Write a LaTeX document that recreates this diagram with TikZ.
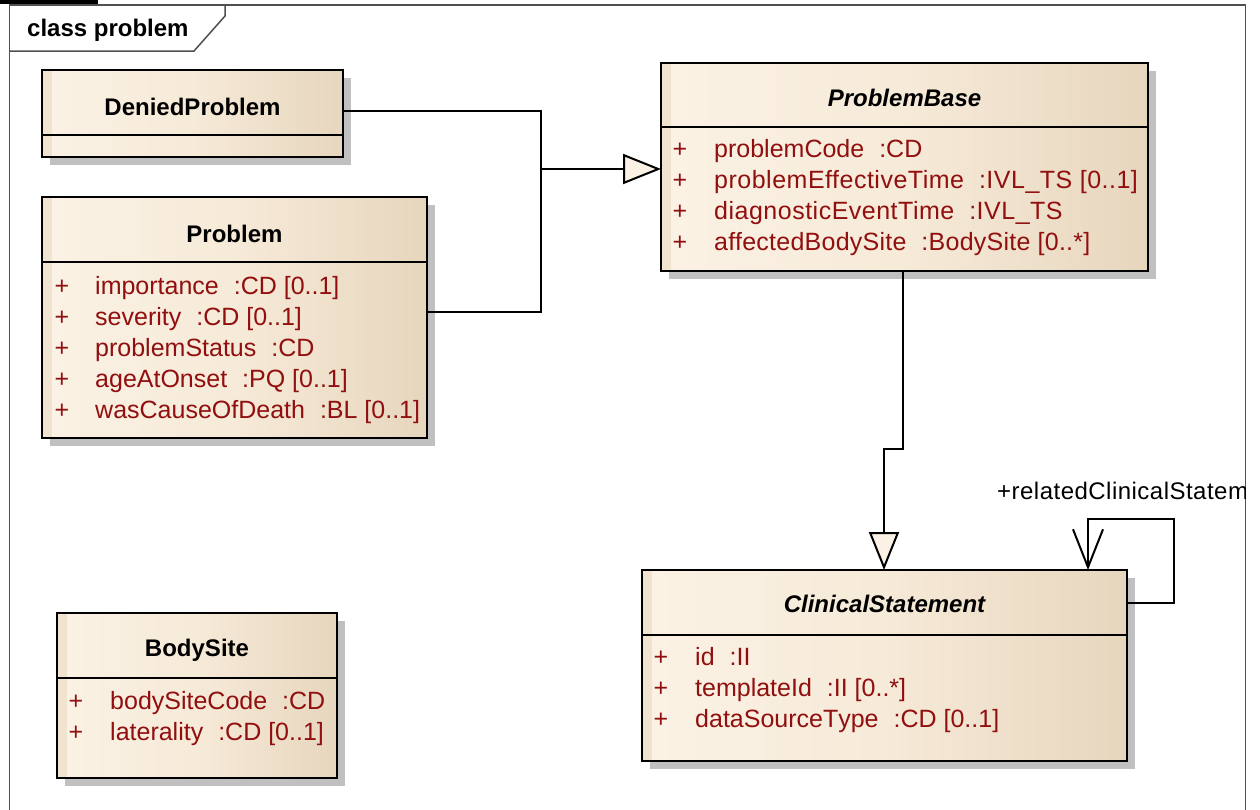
\documentclass[tikz,border=0pt]{standalone}
\usepackage{fontspec}
\setmainfont{Liberation Sans}
\newfontfamily\trackfont[LetterSpace=2]{Liberation Sans}
\newfontfamily\halftrackfont[LetterSpace=1]{Liberation Sans}
\newfontfamily\attrfont[Kerning=Off]{Liberation Sans}
\usetikzlibrary{arrows.meta,calc}
\definecolor{clsL}{RGB}{251,242,229}
\definecolor{clsM}{RGB}{246,234,216}
\definecolor{clsR}{RGB}{231,214,190}
\definecolor{clsStrip}{RGB}{240,227,208}
\definecolor{attrc}{RGB}{145,15,15}
\definecolor{shadowc}{RGB}{192,192,192}
\definecolor{framec}{RGB}{80,80,80}
\newcommand\attrgap{\hspace{0.6em}}
\tikzset{
 clsfill/.style={left color=clsL, right color=clsR, middle color=clsM, draw=none, inner sep=0pt, outer sep=0pt, anchor=north west},
 border/.style={draw=black, line width=2.4pt},
 title/.style={font=\fontsize{24}{28}\selectfont\bfseries, anchor=base, inner sep=0pt},
 ititle/.style={title, font=\fontsize{24}{28}\selectfont\bfseries\itshape},
 attr/.style={font=\attrfont\fontsize{25}{30}\selectfont, text=attrc, anchor=base west, inner sep=0pt},
 attrwide/.style={attr, font=\trackfont\fontsize{25}{30}\selectfont},
 attrmid/.style={attr, font=\halftrackfont\fontsize{25}{30}\selectfont},
 plus/.style={font=\attrfont\fontsize{25}{30}\selectfont, text=attrc, anchor=base, inner sep=0pt},
 conn/.style={draw=black, line width=2pt},
 gen/.style={-{Triangle[length=38pt,width=30pt,fill=clsL]}},
 nav/.style={-{Straight Barb[length=38pt,width=30pt]}},
 framel/.style={draw=framec, line width=1.5pt},
}
\newcommand\umlclass[6]{%
  \fill[shadowc] (#2+8,#3+8) rectangle (#2+#4+8,#3+#5+8);
  \node[clsfill, minimum width=#4pt, minimum height=#5pt] (#1) at (#2,#3) {};
  \fill[clsStrip] (#1.north west) rectangle ($(#1.south west)+(10,0)$);
  \draw[border] (#1.north west) rectangle (#1.south east);
  \draw[border] ($(#1.north west)+(0,#6)$) -- ($(#1.north east)+(0,#6)$);
}
\begin{document}
\begin{tikzpicture}[x=1pt,y=-1pt]
\useasboundingbox (0,0) rectangle (1260,809);
\fill[white] (0,0) rectangle (1260,809);
% frame
\fill[black] (0,0) rectangle (98,3.5);
\draw[framel] (9.5,815) -- (9.5,5) -- (1245.5,5) -- (1245.5,815);
\draw[framel] (9.5,51) -- (194,51) -- (225,16) -- (225,5);
\node[font=\fontsize{24}{28}\selectfont\bfseries, anchor=base west, inner sep=0pt] (tab) at (27,36) {class problem};

% classes
\umlclass{denied}{42}{70}{301}{87}{65}
\node[title] (deniedt) at ($(denied.north)+(0,45)$) {DeniedProblem};

\umlclass{problem}{42}{197}{385}{241}{65}
\node[title] (problemt) at ($(problem.north)+(0,45)$) {Problem};
\node[plus] (pp1) at (62,294) {+};
\node[attr] (pa1) at (95,294) {importance\attrgap:CD [0..1]};
\node[plus] (pp2) at (62,325) {+};
\node[attr] (pa2) at (95,325) {severity\attrgap:CD [0..1]};
\node[plus] (pp3) at (62,356) {+};
\node[attr] (pa3) at (95,356) {problemStatus\attrgap:CD};
\node[plus] (pp4) at (62,387) {+};
\node[attr] (pa4) at (95,387) {ageAtOnset\attrgap:PQ [0..1]};
\node[plus] (pp5) at (62,418) {+};
\node[attr] (pa5) at (95,418) {wasCauseOfDeath\attrgap:BL [0..1]};

\umlclass{base}{661}{63}{487}{208}{64}
\node[ititle] (baset) at ($(base.north)+(0,43)$) {ProblemBase};
\node[plus] (bp1) at (680,157) {+};
\node[attr] (ba1) at (714,157) {problemCode\attrgap:CD};
\node[plus] (bp2) at (680,188) {+};
\node[attrwide] (ba2) at (714,188) {problemEffectiveTime\attrgap:IVL\_TS [0..1]};
\node[plus] (bp3) at (680,219) {+};
\node[attrwide] (ba3) at (714,219) {diagnosticEventTime\attrgap:IVL\_TS};
\node[plus] (bp4) at (680,250) {+};
\node[attrmid] (ba4) at (714,250) {affectedBodySite\attrgap:BodySite [0..*]};

\umlclass{clinical}{642}{570}{485}{191}{65}
\node[ititle] (clinicalt) at ($(clinical.north)+(0,42)$) {ClinicalStatement};
\node[plus] (cp1) at (661,665) {+};
\node[attr] (ca1) at (695,665) {id\attrgap:II};
\node[plus] (cp2) at (661,696) {+};
\node[attr] (ca2) at (695,696) {templateId\attrgap:II [0..*]};
\node[plus] (cp3) at (661,727) {+};
\node[attr] (ca3) at (695,727) {dataSourceType\attrgap:CD [0..1]};

\umlclass{bodysite}{57}{613}{280}{165}{65}
\node[title] (bodysitet) at ($(bodysite.north)+(0,43)$) {BodySite};
\node[plus] (sp1) at (76,709) {+};
\node[attr] (sa1) at (110,709) {bodySiteCode\attrgap:CD};
\node[plus] (sp2) at (76,740) {+};
\node[attr] (sa2) at (110,740) {laterality\attrgap:CD [0..1]};

% connectors
\coordinate (j) at (541,169);
\draw[conn] ($(denied.north east)+(0,41)$) -| (j);
\draw[conn] ($(problem.north east)+(0,115)$) -| (j);
\draw[conn, gen] (j) -- ($(base.north west)+(0,106)$);
\draw[conn, gen] ($(base.south west)+(242,0)$) -- ++(0,178) -| ($(clinical.north west)+(242,0)$);
\draw[conn, nav] ($(clinical.north east)+(0,33)$) -- ++(47,0) -- ++(0,-84) -| ($(clinical.north west)+(446,0)$);
\begin{scope}
\clip (0,0) rectangle (1245,809);
\node[font=\trackfont\fontsize{24}{28}\selectfont, anchor=base west, inner sep=0pt] (lbl) at (997,499) {+relatedClinicalStatem};
\end{scope}
\end{tikzpicture}
\end{document}
